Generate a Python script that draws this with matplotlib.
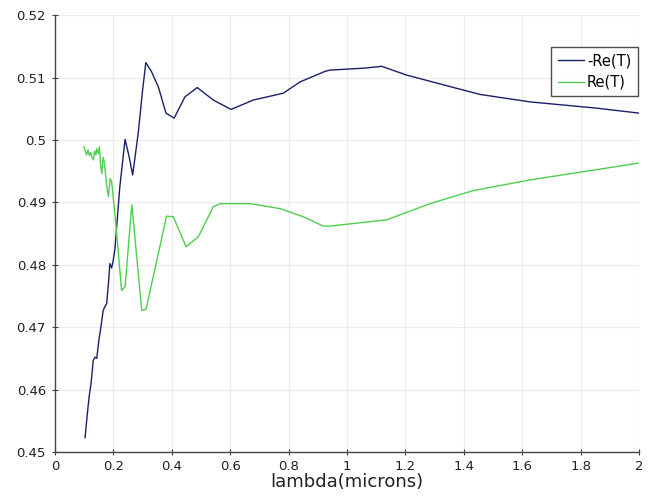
import matplotlib
matplotlib.use("Agg")
import matplotlib.pyplot as plt

# -Re(T)
x_neg = [0.103, 0.110, 0.117, 0.124, 0.131, 0.137, 0.143, 0.150, 0.158, 0.165, 0.171, 0.177, 0.183, 0.188, 0.194, 0.199, 0.205,
         0.222, 0.240, 0.253, 0.266, 0.285, 0.300, 0.311, 0.330, 0.354, 0.380, 0.408, 0.445, 0.487, 0.542, 0.603,
         0.679, 0.782, 0.839, 0.925, 0.942, 1.056, 1.119, 1.204, 1.398, 1.455, 1.627, 1.855, 2.0]
y_neg = [0.4523, 0.4558, 0.4589, 0.4612, 0.4647, 0.4652, 0.4650, 0.4678, 0.4703, 0.4727, 0.4733, 0.4738, 0.4770, 0.4802, 0.4795, 0.4806, 0.4824,
         0.4925, 0.5001, 0.4975, 0.4944, 0.5011, 0.5080, 0.5124, 0.5110, 0.5085, 0.5043, 0.5035, 0.5069, 0.5084, 0.5064, 0.5049,
         0.5064, 0.5075, 0.5093, 0.5110, 0.5112, 0.5115, 0.5118, 0.5104, 0.5080, 0.5073, 0.5061, 0.5051, 0.5043]

# Re(T)
x_pos = [0.099, 0.104, 0.108, 0.113, 0.118, 0.122, 0.127, 0.131, 0.136, 0.140, 0.143, 0.148, 0.152, 0.156, 0.160, 0.165, 0.169,
         0.176, 0.183, 0.189, 0.194, 0.200, 0.205, 0.215, 0.228, 0.240, 0.263, 0.266, 0.297, 0.312, 0.382, 0.405,
         0.449, 0.491, 0.542, 0.565, 0.668, 0.771, 0.850, 0.919, 0.942, 1.136, 1.284, 1.433, 1.627, 2.0]
y_pos = [0.4989, 0.4982, 0.4976, 0.4984, 0.4975, 0.4980, 0.4972, 0.4968, 0.4982, 0.4976, 0.4986, 0.4978, 0.4989, 0.4962, 0.4946, 0.4972, 0.4965,
         0.4930, 0.4909, 0.4938, 0.4933, 0.4905, 0.4882, 0.4830, 0.4759, 0.4765, 0.4896, 0.4882, 0.4727, 0.4729, 0.4878, 0.4877,
         0.4829, 0.4845, 0.4893, 0.4898, 0.4898, 0.4890, 0.4877, 0.4862, 0.4862, 0.4872, 0.4898, 0.4919, 0.4936, 0.4963]

x_ticks = [0, 0.2, 0.4, 0.6, 0.8, 1, 1.2, 1.4, 1.6, 1.8, 2]
x_tick_labels = ["0", "0.2", "0.4", "0.6", "0.8", "1", "1.2", "1.4", "1.6", "1.8", "2"]
y_ticks = [0.45, 0.46, 0.47, 0.48, 0.49, 0.5, 0.51, 0.52]
y_tick_labels = ["0.45", "0.46", "0.47", "0.48", "0.49", "0.5", "0.51", "0.52"]

fig = plt.figure(figsize=(6.57, 4.97), dpi=100)
ax = fig.add_axes([0.0837, 0.0905, 0.889, 0.879])

ax.plot(x_neg, y_neg, color="#1b1f6b", lw=1.0, label="-Re(T)")
ax.plot(x_pos, y_pos, color="#4fce4f", lw=1.0, label="Re(T)")

ax.set_xlim(0, 2)
ax.set_ylim(0.45, 0.52)
ax.set_xticks(x_ticks)
ax.set_xticklabels(x_tick_labels)
ax.set_yticks(y_ticks)
ax.set_yticklabels(y_tick_labels)
ax.grid(True, color="#ececec", lw=0.8)
ax.set_axisbelow(True)
for s in ["top", "right"]:
    ax.spines[s].set_visible(False)
for s in ["left", "bottom"]:
    ax.spines[s].set_color("#444444")
    ax.spines[s].set_linewidth(1.0)
ax.tick_params(direction="inout", length=5, width=0.8, color="#444444", labelsize=9.5, labelcolor="#222222")
ax.tick_params(axis="x", pad=3)
ax.tick_params(axis="y", pad=4)
ax.set_xlabel("lambda(microns)", fontsize=13, color="#222222", labelpad=0)

leg = ax.legend(loc="upper right", bbox_to_anchor=(0.998, 0.928), fontsize=10.5, frameon=True,
                fancybox=False, borderpad=0.45, handlelength=1.8, handletextpad=0.2, labelspacing=0.45,
                borderaxespad=0)
leg.get_frame().set_edgecolor("#222222")
leg.get_frame().set_linewidth(1.0)

fig.savefig("out.png", dpi=100)
